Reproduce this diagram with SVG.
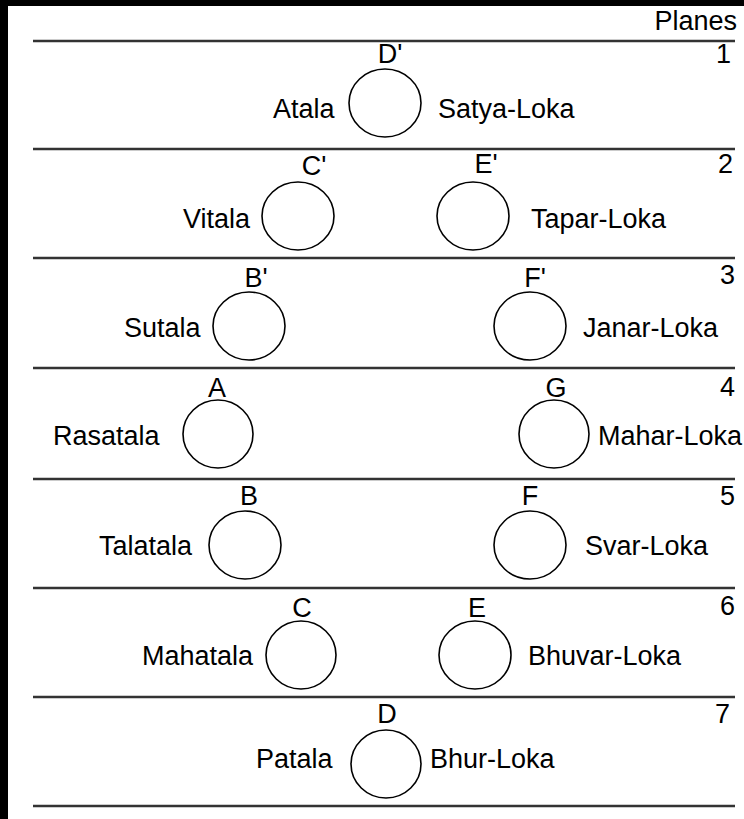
<svg xmlns="http://www.w3.org/2000/svg" width="744" height="819" viewBox="0 0 744 819">
<style>
  text { font-family: "Liberation Sans", Arial, sans-serif; font-size: 27px; fill: #000; }
  .num { text-anchor: end; }
  .lbl { text-anchor: middle; }
  .ring { fill: #fff; stroke: #000; stroke-width: 1.6; }
  .sep { stroke: #333; stroke-width: 2.6; }
</style>
<rect x="0" y="0" width="744" height="819" fill="#000"/>
<rect x="8" y="6" width="736" height="813" fill="#fff"/>

<g id="plane-lines">
  <line class="sep" x1="33" y1="41" x2="735" y2="41"/>
  <line class="sep" x1="33" y1="149" x2="735" y2="149"/>
  <line class="sep" x1="33" y1="258" x2="735" y2="258"/>
  <line class="sep" x1="33" y1="368" x2="735" y2="368"/>
  <line class="sep" x1="33" y1="479" x2="735" y2="479"/>
  <line class="sep" x1="33" y1="588" x2="735" y2="588"/>
  <line class="sep" x1="33" y1="697" x2="735" y2="697"/>
  <line class="sep" x1="33" y1="806" x2="735" y2="806"/>
</g>

<text class="num" x="737" y="30">Planes</text>

<g id="plane-1">
  <text class="num" x="731" y="63">1</text>
  <text x="273" y="118">Atala</text>
  <text x="438" y="118">Satya-Loka</text>
</g>
<g id="plane-2">
  <text class="num" x="733" y="173">2</text>
  <text x="183" y="228">Vitala</text>
  <text x="531" y="228">Tapar-Loka</text>
</g>
<g id="plane-3">
  <text class="num" x="735" y="284">3</text>
  <text x="124" y="337">Sutala</text>
  <text x="583" y="337">Janar-Loka</text>
</g>
<g id="plane-4">
  <text class="num" x="735" y="396">4</text>
  <text x="53" y="445">Rasatala</text>
  <text x="598" y="445">Mahar-Loka</text>
</g>
<g id="plane-5">
  <text class="num" x="735" y="505">5</text>
  <text x="99" y="555">Talatala</text>
  <text x="585" y="555">Svar-Loka</text>
</g>
<g id="plane-6">
  <text class="num" x="735" y="615">6</text>
  <text x="142" y="665">Mahatala</text>
  <text x="528" y="665">Bhuvar-Loka</text>
</g>
<g id="plane-7">
  <text class="num" x="730" y="723">7</text>
  <text x="256" y="768">Patala</text>
  <text x="430" y="768">Bhur-Loka</text>
</g>

<g id="node-Dp"><ellipse class="ring" cx="385" cy="103" rx="36" ry="34"/><text class="lbl" x="390" y="63">D'</text></g>
<g id="node-Cp"><ellipse class="ring" cx="298" cy="216" rx="36" ry="34"/><text class="lbl" x="314" y="175">C'</text></g>
<g id="node-Ep"><ellipse class="ring" cx="473" cy="216" rx="36" ry="34"/><text class="lbl" x="486" y="173">E'</text></g>
<g id="node-Bp"><ellipse class="ring" cx="249" cy="326" rx="36" ry="34"/><text class="lbl" x="256" y="287">B'</text></g>
<g id="node-Fp"><ellipse class="ring" cx="530" cy="326" rx="36" ry="34"/><text class="lbl" x="535" y="287">F'</text></g>
<g id="node-A"><ellipse class="ring" cx="218" cy="434" rx="35" ry="34"/><text class="lbl" x="217" y="397">A</text></g>
<g id="node-G"><ellipse class="ring" cx="554" cy="434" rx="35" ry="34"/><text class="lbl" x="556" y="397">G</text></g>
<g id="node-B"><ellipse class="ring" cx="245" cy="545" rx="36" ry="34"/><text class="lbl" x="249" y="505">B</text></g>
<g id="node-F"><ellipse class="ring" cx="530" cy="545" rx="36" ry="34"/><text class="lbl" x="530" y="505">F</text></g>
<g id="node-C"><ellipse class="ring" cx="301" cy="655" rx="35" ry="34"/><text class="lbl" x="302" y="617">C</text></g>
<g id="node-E"><ellipse class="ring" cx="475" cy="655" rx="36" ry="34"/><text class="lbl" x="477" y="617">E</text></g>
<g id="node-D"><ellipse class="ring" cx="386" cy="764" rx="35" ry="34"/><text class="lbl" x="387" y="723">D</text></g>
</svg>
